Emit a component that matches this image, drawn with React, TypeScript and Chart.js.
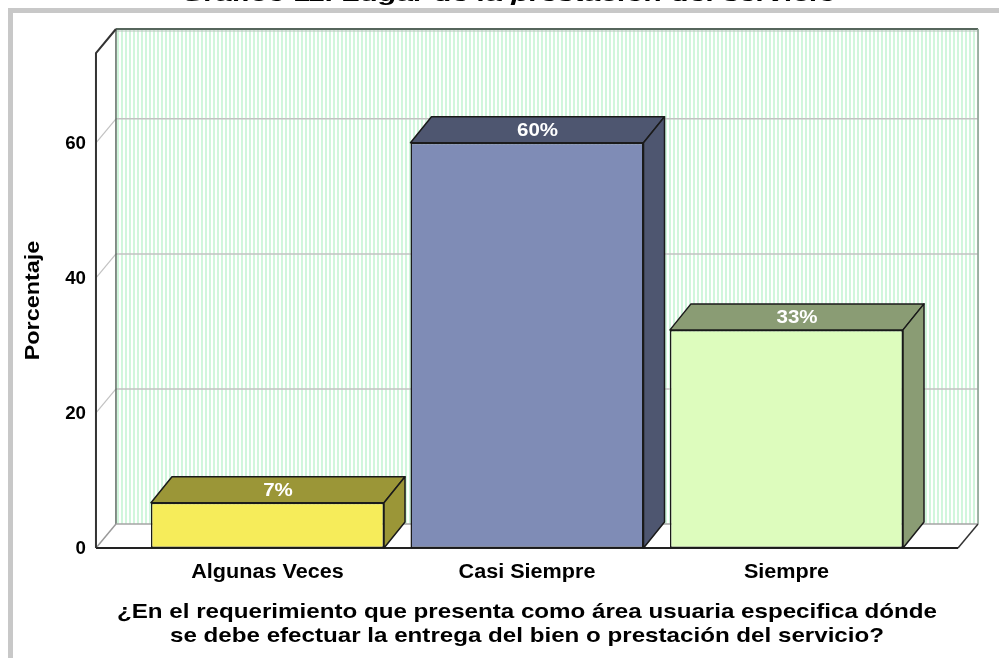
import { useEffect, useRef } from "react";
import { Chart, registerables } from "chart.js";

Chart.register(...registerables);

// ---- data ----
const categories = ["Algunas Veces", "Casi Siempre", "Siempre"];
const percentages = [6.7, 60.0, 32.3];
const valueLabels = ["7%", "60%", "33%"];
const yTicks = [0, 20, 40, 60];
const yMax = 73.3;
const yTitle = "Porcentaje";
const xTitleLines = [
  "¿En el requerimiento que presenta como área usuaria especifica dónde",
  "se debe efectuar la entrega del bien o prestación del servicio?",
];
const chartTitle = "Gráfico 11. Lugar de la prestación del servicio";

// ---- styles ----
const frontColors = ["#f6ec5a", "#7f8cb6", "#ddfcbd"];
const shadeColors = ["#9b9637", "#4e5670", "#8a9c74"];
const FONT = "'Liberation Sans', Arial, sans-serif";
const WALL_DX = 20;
const WALL_DY = -24;
const BAR_DX = 21;
const BAR_DY = -26;
const FLOOR_PAD = 0.161; // fraction of a category width

function stretchedText(
  ctx: CanvasRenderingContext2D,
  text: string,
  x: number,
  y: number,
  font: string,
  color: string,
  align: CanvasTextAlign,
  sx: number,
  rotate = 0,
  baseline: CanvasTextBaseline = "middle"
) {
  ctx.save();
  ctx.translate(x, y);
  if (rotate) ctx.rotate(rotate);
  ctx.scale(sx, 1);
  ctx.font = font;
  ctx.fillStyle = color;
  ctx.textAlign = align;
  ctx.textBaseline = baseline;
  ctx.fillText(text, 0, 0);
  ctx.restore();
}

function line(ctx: CanvasRenderingContext2D, x1: number, y1: number, x2: number, y2: number, color: string, w: number) {
  ctx.beginPath();
  ctx.moveTo(x1, y1);
  ctx.lineTo(x2, y2);
  ctx.strokeStyle = color;
  ctx.lineWidth = w;
  ctx.stroke();
}

const wallPlugin = {
  id: "wall3d",
  beforeDatasetsDraw(chart: any) {
    const { ctx, chartArea: a, scales } = chart;
    const y = scales.y;
    const cw = (a.right - a.left) / categories.length;
    const pad = FLOOR_PAD * cw;
    const fl = a.left - pad;
    const fr = a.right + pad;
    const y0 = y.getPixelForValue(0);
    const yTop = y.getPixelForValue(yMax);

    ctx.save();
    ctx.fillStyle = "#ffffff";
    ctx.fillRect(0, 0, chart.width, chart.height);
    ctx.fillStyle = "#c8c8c8";
    ctx.fillRect(8, 8, chart.width, 5);
    ctx.fillRect(8, 8, 5, chart.height);

    const bl = fl + WALL_DX;
    const br = fr + WALL_DX;
    const bt = yTop + WALL_DY;
    const bb = y0 + WALL_DY;
    ctx.fillStyle = "#d0f6dc";
    for (let xs = bl + 1; xs < br - 1; xs += 4) {
      ctx.fillRect(xs, bt, 2, bb - bt);
    }

    yTicks.forEach((t) => {
      if (t === 0) return;
      const yp = y.getPixelForValue(t);
      line(ctx, bl, yp + WALL_DY, br, yp + WALL_DY, "#c2c2c2", 1.5);
      line(ctx, fl, yp, bl, yp + WALL_DY, "#c2c2c2", 1.2);
    });

    line(ctx, bl, bt, br, bt, "#56665c", 2);
    line(ctx, bl, bt + 2, br, bt + 2, "#b8c4bc", 1);
    line(ctx, bl, bt, bl, bb, "#5b6b61", 1.5);
    line(ctx, br, bt, br, bb, "#8c9c92", 1.5);
    line(ctx, bl, bb, br, bb, "#a4a4a4", 1.5);

    line(ctx, fl, y0, bl, bb, "#9a9a9a", 1.5);
    line(ctx, fr, y0, br, bb, "#333333", 1.5);
    line(ctx, fl, y0, fr, y0, "#222222", 2);

    ctx.beginPath();
    ctx.moveTo(fl, y0);
    ctx.lineTo(fl, yTop);
    ctx.lineTo(bl, bt);
    ctx.strokeStyle = "#333333";
    ctx.lineWidth = 2;
    ctx.stroke();
    ctx.restore();
  },
  afterDatasetsDraw(chart: any) {
    const { ctx, chartArea: a, scales } = chart;
    const y = scales.y;
    const x = scales.x;
    const meta = chart.getDatasetMeta(0);
    ctx.save();
    meta.data.forEach((el: any, i: number) => {
      const p = el.getProps(["x", "y", "base", "width"], true);
      const l = p.x - p.width / 2;
      const r = p.x + p.width / 2;
      ctx.lineJoin = "round";
      ctx.beginPath();
      ctx.moveTo(l, p.y);
      ctx.lineTo(l + BAR_DX, p.y + BAR_DY);
      ctx.lineTo(r + BAR_DX, p.y + BAR_DY);
      ctx.lineTo(r, p.y);
      ctx.closePath();
      ctx.fillStyle = shadeColors[i];
      ctx.fill();
      ctx.strokeStyle = "#1a1a1a";
      ctx.lineWidth = 1.5;
      ctx.stroke();
      ctx.beginPath();
      ctx.moveTo(r, p.y);
      ctx.lineTo(r + BAR_DX, p.y + BAR_DY);
      ctx.lineTo(r + BAR_DX, p.base + BAR_DY);
      ctx.lineTo(r, p.base);
      ctx.closePath();
      ctx.fillStyle = shadeColors[i];
      ctx.fill();
      ctx.stroke();
      stretchedText(
        ctx,
        valueLabels[i],
        p.x + BAR_DX / 2,
        p.y + BAR_DY / 2 + 1,
        `bold 19px ${FONT}`,
        "#ffffff",
        "center",
        1.08
      );
    });

    const cw = (a.right - a.left) / categories.length;
    const pad = FLOOR_PAD * cw;
    const fl = a.left - pad;
    const fr = a.right + pad;
    const y0 = y.getPixelForValue(0);
    const yTop = y.getPixelForValue(yMax);

    yTicks.forEach((t) => {
      stretchedText(ctx, String(t), fl - 10, y.getPixelForValue(t) + 1, `bold 18px ${FONT}`, "#000000", "right", 1.04);
    });
    categories.forEach((c, i) => {
      stretchedText(ctx, c, x.getPixelForValue(i), y0 + 24, `bold 20px ${FONT}`, "#000000", "center", 1.08);
    });
    const mid = (fl + fr) / 2;
    xTitleLines.forEach((t, i) => {
      stretchedText(ctx, t, mid, y0 + 64 + i * 24, `bold 21px ${FONT}`, "#000000", "center", 1.15);
    });
    stretchedText(ctx, yTitle, 33, (y0 + yTop) / 2, `bold 20px ${FONT}`, "#000000", "center", 1.17, -Math.PI / 2);

    ctx.font = `italic bold 20px ${FONT}`;
    const w = ctx.measureText(chartTitle).width;
    stretchedText(ctx, chartTitle, 509, 1, `italic bold 20px ${FONT}`, "#000000", "center", 656 / w, 0, "alphabetic");
    ctx.restore();
  },
};

export default function App() {
  const ref = useRef<HTMLCanvasElement | null>(null);
  useEffect(() => {
    if (!ref.current) return;
    const chart = new Chart(ref.current, {
      type: "bar",
      data: {
        labels: categories,
        datasets: [
          {
            data: percentages,
            backgroundColor: frontColors,
            borderColor: "#1a1a1a",
            borderWidth: 1.5,
            borderSkipped: false,
            categoryPercentage: 1,
            barPercentage: 0.898,
          },
        ],
      },
      options: {
        animation: false,
        responsive: false,
        devicePixelRatio: 1,
        layout: { padding: { left: 137.75, right: 82.75, top: 53, bottom: 110 } },
        plugins: { legend: { display: false }, tooltip: { enabled: false }, title: { display: false } },
        scales: {
          x: { display: false, offset: true },
          y: { display: false, min: 0, max: yMax },
        },
      },
      plugins: [wallPlugin],
    });
    return () => chart.destroy();
  }, []);
  return (
    <div style={{ position: "fixed", left: 0, top: 0, width: 999, height: 658, background: "#fff" }}>
      <canvas ref={ref} width={999} height={658} style={{ display: "block", width: 999, height: 658 }} />
    </div>
  );
}
